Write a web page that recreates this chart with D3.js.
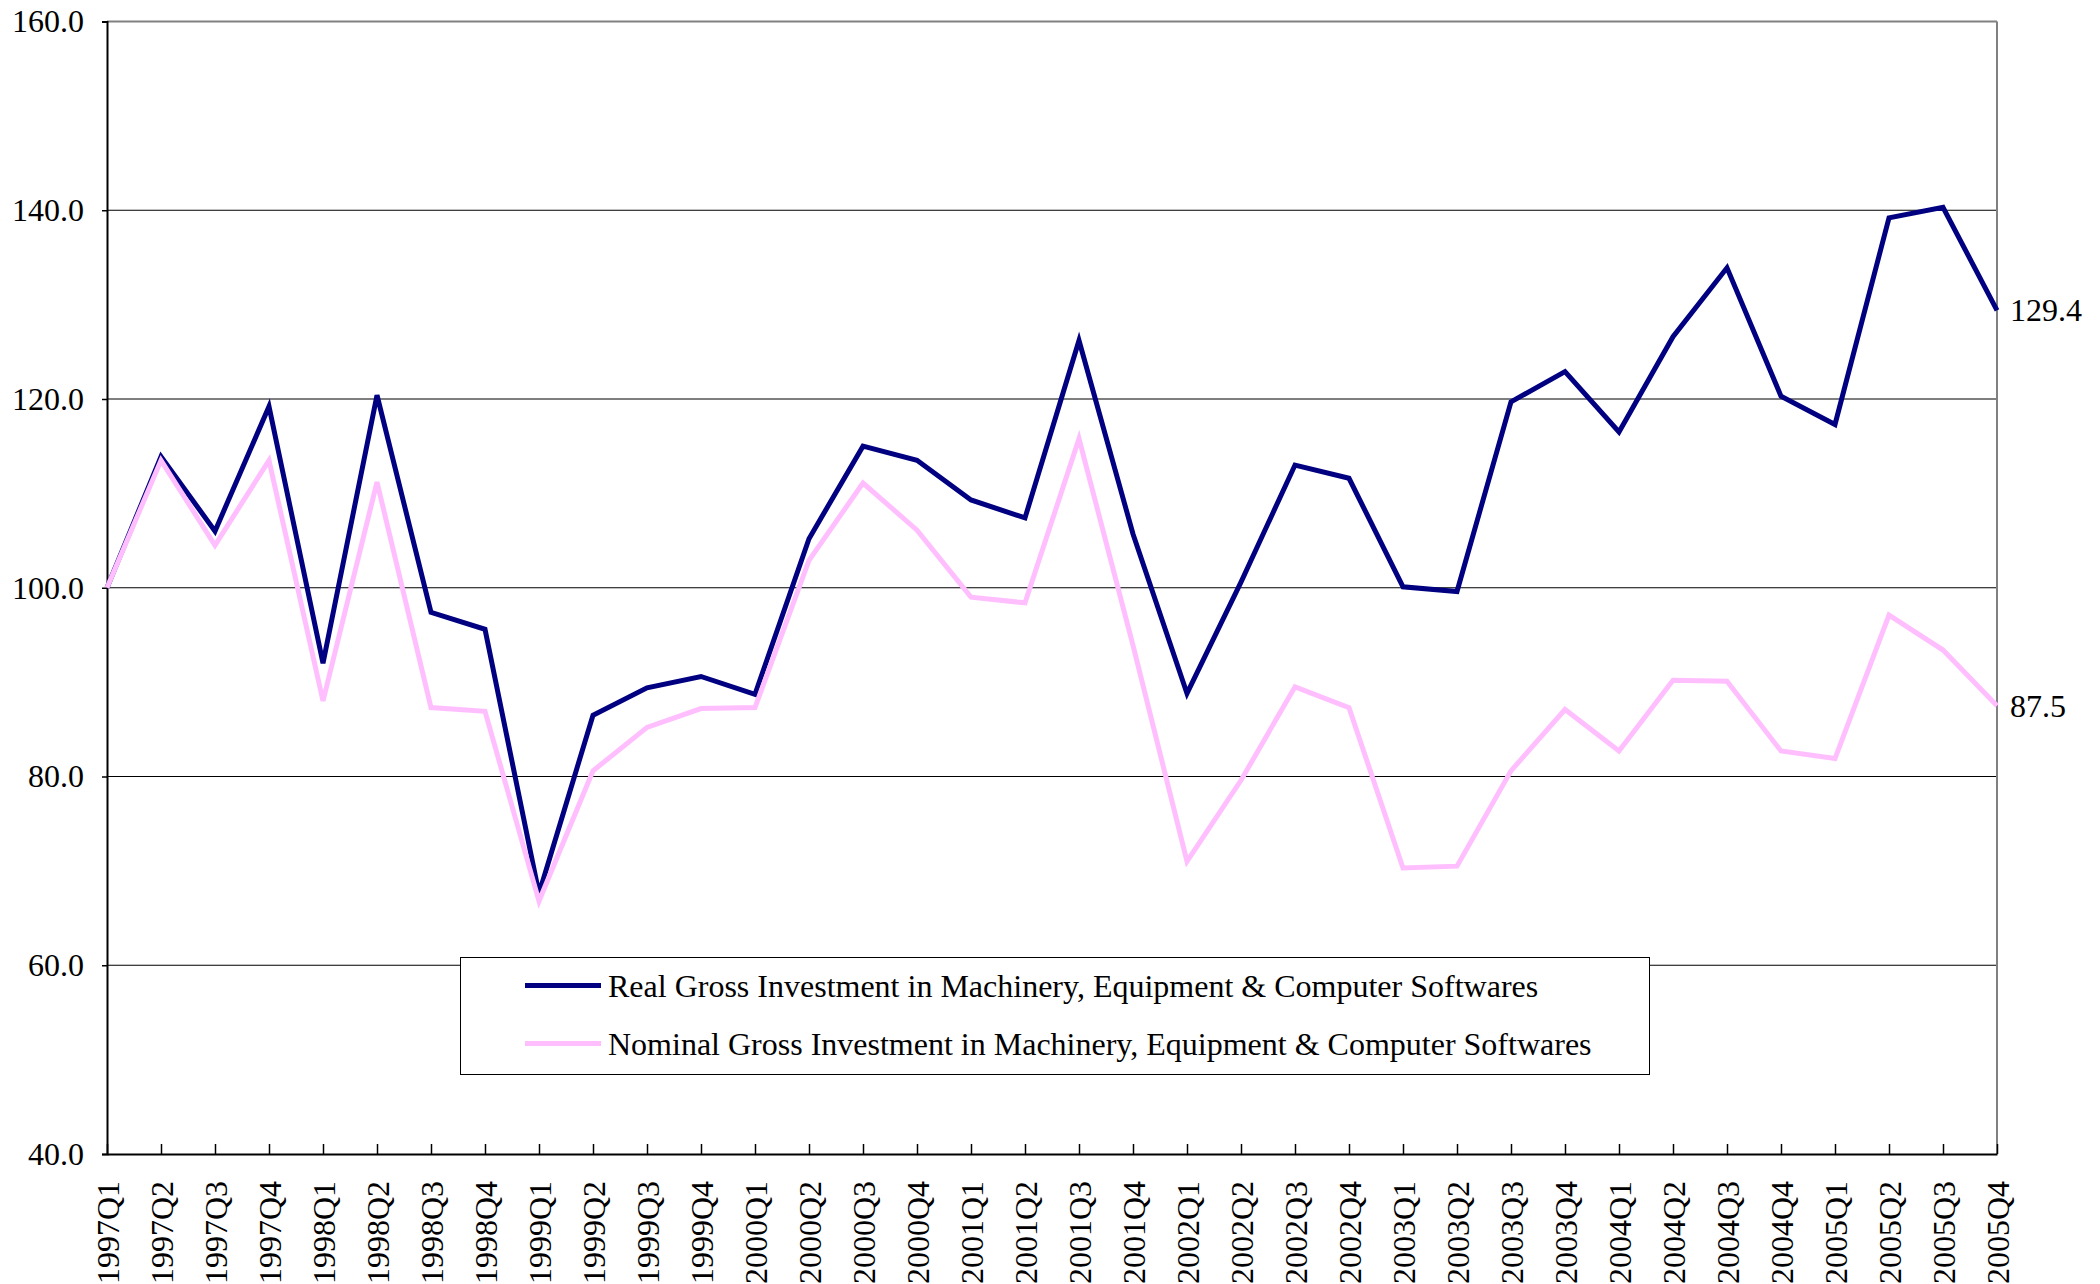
<!DOCTYPE html>
<html><head><meta charset="utf-8">
<script src="https://cdn.jsdelivr.net/npm/d3@7"></script>
<style>body{margin:0;background:#fff} svg{display:block}</style>
</head><body><svg id="c" width="2100" height="1284"></svg>
<script>
const quarters = ["1997Q1","1997Q2","1997Q3","1997Q4","1998Q1","1998Q2","1998Q3","1998Q4",
  "1999Q1","1999Q2","1999Q3","1999Q4","2000Q1","2000Q2","2000Q3","2000Q4",
  "2001Q1","2001Q2","2001Q3","2001Q4","2002Q1","2002Q2","2002Q3","2002Q4",
  "2003Q1","2003Q2","2003Q3","2003Q4","2004Q1","2004Q2","2004Q3","2004Q4",
  "2005Q1","2005Q2","2005Q3","2005Q4"];
const realValues = [100.0,113.9,106.0,119.2,92.0,120.4,97.4,95.6,
  67.6,86.5,89.4,90.6,88.7,105.2,115.0,113.5,
  109.3,107.4,126.2,105.7,88.8,100.6,113.0,111.6,
  100.1,99.6,119.7,122.9,116.5,126.6,133.9,120.3,
  117.3,139.2,140.3,129.4];
const nominalValues = [100.0,113.5,104.5,113.5,88.0,111.2,87.3,86.9,
  66.8,80.6,85.2,87.2,87.3,102.9,111.1,106.1,
  99.0,98.4,115.8,93.9,71.0,79.6,89.5,87.3,
  70.3,70.5,80.6,87.1,82.7,90.2,90.1,82.7,
  81.9,97.1,93.4,87.5];
const yTicks = [40,60,80,100,120,140,160];
const seriesNames = ["Real Gross Investment in Machinery, Equipment & Computer Softwares",
  "Nominal Gross Investment in Machinery, Equipment & Computer Softwares"];
const seriesColors = ["#000080","#ffbfff"];

const FONT = "'Liberation Serif','Times New Roman',serif";
const FS = 32;
const svg = d3.select("#c");
const L = 107, R = 1997, T = 21.5, B = 1154;
const x = d3.scalePoint().domain(quarters).range([L, R]);
const y = d3.scaleLinear().domain([40, 160]).range([B, T]);

// gridlines
svg.append("g").selectAll("line").data(yTicks.filter(d => d > 40 && d < 160)).join("line")
  .attr("x1", L).attr("x2", R)
  .attr("y1", d => y(d)).attr("y2", d => y(d))
  .attr("stroke", "#000").attr("stroke-width", 1.2);
// top & right border
svg.append("line").attr("x1", L).attr("x2", R).attr("y1", T).attr("y2", T)
  .attr("stroke", "#808080").attr("stroke-width", 2);
svg.append("line").attr("x1", R).attr("x2", R).attr("y1", T).attr("y2", B)
  .attr("stroke", "#808080").attr("stroke-width", 2);

// y axis
const yAxis = d3.axisLeft(y).tickValues(yTicks).tickSize(5).tickPadding(18)
  .tickFormat(d3.format(".1f"));
const gy = svg.append("g").attr("transform", `translate(${L},0)`).call(yAxis);
gy.select(".domain").attr("stroke", "#000").attr("stroke-width", 2);
gy.selectAll(".tick line").attr("stroke", "#000").attr("stroke-width", 1.5);
gy.selectAll("text").attr("font-family", FONT).attr("font-size", FS).attr("fill", "#000");

// x axis
const xAxis = d3.axisBottom(x).tickSize(-10).tickSizeOuter(0).tickPadding(0);
const gx = svg.append("g").attr("transform", `translate(0,${B})`).call(xAxis);
gx.select(".domain").attr("stroke", "#000").attr("stroke-width", 2);
gx.selectAll(".tick line").attr("stroke", "#000").attr("stroke-width", 1.5);
gx.selectAll("text")
  .attr("font-family", FONT).attr("font-size", FS).attr("fill", "#000")
  .attr("text-anchor", "end").attr("dominant-baseline", "central")
  .attr("dy", null)
  .attr("transform", "translate(0,27) rotate(-90)")
  .attr("x", 0).attr("y", 0);

// lines
const line = d3.line().x((d, i) => x(quarters[i])).y(d => y(d)).curve(d3.curveLinear);
[realValues, nominalValues].forEach((vals, k) => {
  svg.append("path").datum(vals).attr("d", line)
    .attr("fill", "none").attr("stroke", seriesColors[k]).attr("stroke-width", 5)
    .attr("stroke-linejoin", "miter");
});

// end labels
[realValues, nominalValues].forEach((vals) => {
  const v = vals[vals.length - 1];
  svg.append("text").attr("x", R + 13).attr("y", y(v))
    .attr("dominant-baseline", "central")
    .attr("font-family", FONT).attr("font-size", FS).attr("fill", "#000")
    .text(d3.format(".1f")(v));
});

// legend
const lg = svg.append("g");
lg.append("rect").attr("x", 460.5).attr("y", 957.5).attr("width", 1189).attr("height", 117)
  .attr("fill", "#fff").attr("stroke", "#000").attr("stroke-width", 1);
const rowsY = [985.5, 1043.5];
seriesNames.forEach((name, k) => {
  lg.append("line").attr("x1", 525).attr("x2", 601).attr("y1", rowsY[k]).attr("y2", rowsY[k])
    .attr("stroke", seriesColors[k]).attr("stroke-width", 5);
  lg.append("text").attr("x", 608).attr("y", rowsY[k])
    .attr("dominant-baseline", "central")
    .attr("font-family", FONT).attr("font-size", FS).attr("fill", "#000")
    .text(name);
});
</script>
</body></html>
